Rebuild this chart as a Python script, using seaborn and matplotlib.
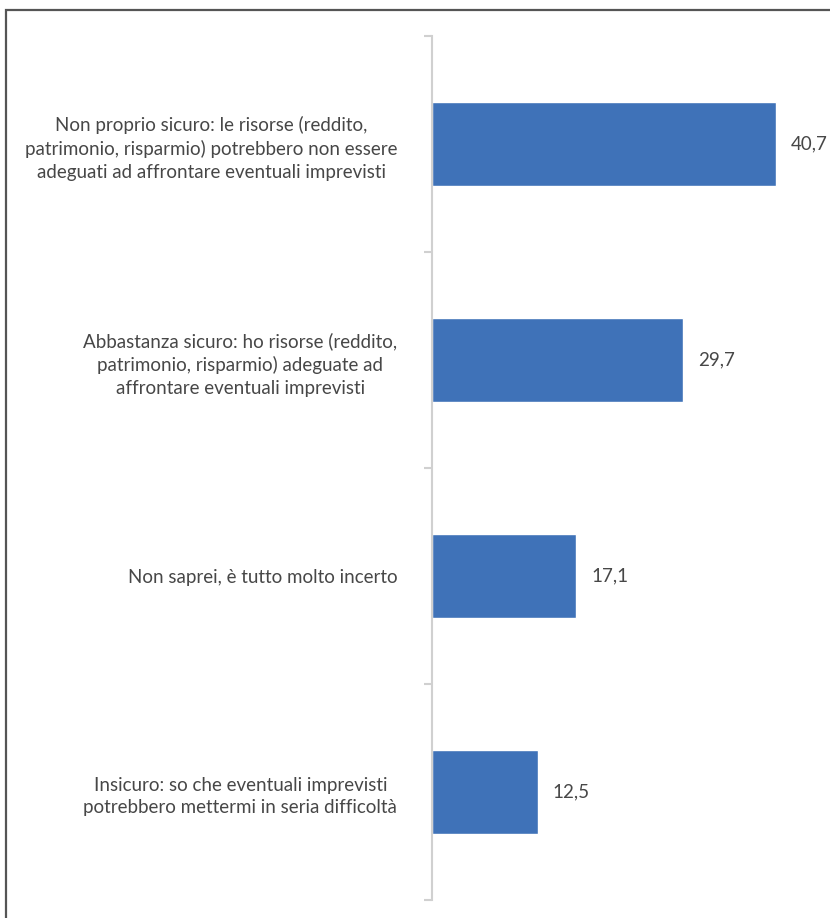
import numpy as np
import pandas as pd
import matplotlib
matplotlib.use('Agg')
import matplotlib.pyplot as plt
from matplotlib.patches import Rectangle
import seaborn as sns

# survey answers and shares (%)
categories = [
    'Non proprio sicuro: le risorse (reddito,\npatrimonio, risparmio) potrebbero non essere\nadeguati ad affrontare eventuali imprevisti',
    'Abbastanza sicuro: ho risorse (reddito,\npatrimonio, risparmio) adeguate ad\naffrontare eventuali imprevisti',
    'Non saprei, è tutto molto incerto',
    'Insicuro: so che eventuali imprevisti\npotrebbero mettermi in seria difficoltà',
]
values = [40.7, 29.7, 17.1, 12.5]

df = pd.DataFrame({'risposta': categories, 'quota': values})

sns.set_style('white')
plt.rcParams['font.family'] = ['Lato', 'DejaVu Sans']
text_col = '#474747'
axis_col = '#d0d0d0'

fig = plt.figure(figsize=(8.3, 9.18), dpi=100)
ax = fig.add_axes([432 / 830, 18 / 918, 380 / 830, 864 / 918])

sns.barplot(data=df, x='quota', y='risposta', orient='h', color='#3F72B8',
            width=0.39, saturation=1, ax=ax)

ax.set_xlim(0, 45)
ax.set_ylim(3.5, -0.5)
ax.set_xlabel('')
ax.set_ylabel('')
ax.set_xticks([])

# labels in the middle of each slot, tick marks at slot boundaries (Excel style)
ax.set_yticks(np.arange(-0.5, 4, 1))
ax.set_yticklabels([])
ax.set_yticks(range(len(categories)), minor=True)
ax.set_yticklabels(categories, minor=True)
ax.tick_params(axis='y', which='major', length=6, width=1.5, color=axis_col, left=True)
ax.tick_params(axis='y', which='minor', length=0, pad=25, labelsize=13.5, labelcolor=text_col)
for lab in ax.get_yticklabels(minor=True):
    lab.set_multialignment('center')
    lab.set_linespacing(1.4)

for s in ['top', 'right', 'bottom']:
    ax.spines[s].set_visible(False)
ax.spines['left'].set_color(axis_col)
ax.spines['left'].set_linewidth(1.5)

ax.bar_label(ax.containers[0], labels=[f'{v:.1f}'.replace('.', ',') for v in values],
             padding=11, fontsize=13.5, color=text_col)

# outer frame (right and bottom edges fall outside the picture)
fig.add_artist(Rectangle((6 / 830, -0.1), 2, 1 - 10 / 918 + 0.1, transform=fig.transFigure,
                         fill=False, ec='#555555', lw=1.6))

fig.savefig('out.png', dpi=100)
